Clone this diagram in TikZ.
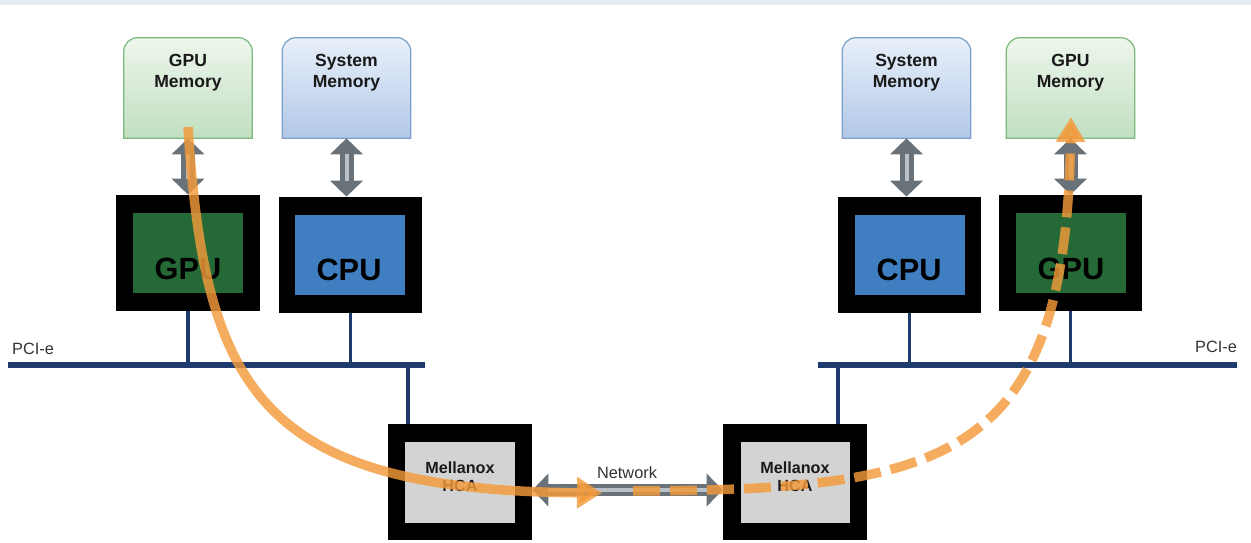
\documentclass[tikz,border=0pt]{standalone}
\usepackage{fontspec}
\setmainfont{Liberation Sans}
\usetikzlibrary{arrows.meta}
\definecolor{navy}{HTML}{1F3B6E}
\definecolor{gpugreen}{HTML}{256A36}
\definecolor{cpublue}{HTML}{3F7FC1}
\definecolor{hcagray}{HTML}{D3D3D3}
\definecolor{orng}{HTML}{F39A3A}
\definecolor{gmfillA}{HTML}{EEF6EC}
\definecolor{gmfillB}{HTML}{C0DFC0}
\definecolor{gmline}{HTML}{7DB97D}
\definecolor{smfillA}{HTML}{E8F0FA}
\definecolor{smfillB}{HTML}{B2C8E8}
\definecolor{smline}{HTML}{7CA0C8}
\definecolor{arrdark}{HTML}{6A7279}
\definecolor{arrlight}{HTML}{B8C0C8}
\definecolor{topband}{HTML}{E6ECF4}
\tikzset{
  outerbox/.style={fill=black, minimum width=2.88cm, minimum height=2.32cm, inner sep=0pt},
  innerbox/.style={minimum width=2.2cm, minimum height=1.62cm, inner sep=0pt},
  bigtext/.style={font=\fontsize{17.5}{20}\selectfont\bfseries, text=black, inner sep=0pt},
  memnode/.style={minimum width=2.56cm, minimum height=2cm, inner sep=0pt},
  memtext/.style={font=\fontsize{10}{11.8}\selectfont\bfseries, align=center, text=black!90, inner sep=0pt},
  gmshape/.style={draw=gmline, line width=0.7pt, top color=gmfillA, bottom color=gmfillB},
  smshape/.style={draw=smline, line width=0.7pt, top color=smfillA, bottom color=smfillB},
  hcatext/.style={font=\fontsize{9.2}{10.4}\selectfont\bfseries, align=center, text=black!90, inner sep=0pt},
  plaintext/.style={font=\fontsize{9.3}{11}\selectfont, text=black!80, inner sep=0pt},
  bus/.style={draw=navy, line width=0.12cm},
  tapline/.style={draw=navy, line width=0.075cm},
  garrow/.style={draw=arrdark, line width=0.28cm,
    arrows={Triangle[length=0.32cm,width=0.64cm]-Triangle[length=0.32cm,width=0.64cm]},
    postaction={draw=arrlight, line width=0.08cm, arrows=-, shorten >=0.32cm, shorten <=0.32cm}},
  flowsolid/.style={draw=orng, opacity=0.82, line width=0.19cm,
    arrows={-Triangle[length=0.5cm,width=0.6cm]}},
  flowdash/.style={draw=orng, opacity=0.82, line width=0.19cm, dash pattern=on 0.54cm off 0.2cm,
    arrows={-Triangle[length=0.5cm,width=0.56cm]}},
}
\newcommand\memshape[2]{%
  \path[#2] (#1.south west) -- ([yshift=-0.28cm]#1.north west) arc(180:90:0.28cm)
    -- ([xshift=-0.28cm]#1.north east) arc(90:0:0.28cm) -- (#1.south east) -- cycle;}
\begin{document}
\begin{tikzpicture}[x=0.02cm, y=-0.02cm]
\useasboundingbox (0,0) rectangle (1251,543);
\fill[topband] (0,0) rectangle (1251,5);

% memory nodes
\node[memnode] (gmL) at (188,88) {};
\node[memnode] (smL) at (346.5,88) {};
\node[memnode] (smR) at (906.5,88) {};
\node[memnode] (gmR) at (1070.5,88) {};
\memshape{gmL}{gmshape}
\memshape{smL}{smshape}
\memshape{smR}{smshape}
\memshape{gmR}{gmshape}
\node[memtext] (gmLt) at (188,73) {GPU\\Memory};
\node[memtext] (smLt) at (346.5,73) {System\\Memory};
\node[memtext] (smRt) at (906.5,73) {System\\Memory};
\node[memtext] (gmRt) at (1070.5,73) {GPU\\Memory};

% processors
\node[outerbox] (gpuL) at (188,253) {};
\node[innerbox, fill=gpugreen] (gpuLi) at (188,253) {};
\node[bigtext] (gpuLt) at (188,269) {GPU};
\node[outerbox] (cpuL) at (350.5,255) {};
\node[innerbox, fill=cpublue] (cpuLi) at (350,255) {};
\node[bigtext] (cpuLt) at (349,270) {CPU};
\node[outerbox] (cpuR) at (909.5,255) {};
\node[innerbox, fill=cpublue] (cpuRi) at (909.5,255) {};
\node[bigtext] (cpuRt) at (909,270) {CPU};
\node[outerbox] (gpuR) at (1070.5,253) {};
\node[innerbox, fill=gpugreen] (gpuRi) at (1071,253) {};
\node[bigtext] (gpuRt) at (1071,269) {GPU};

% HCAs
\node[outerbox] (hcaL) at (460,482) {};
\node[innerbox, fill=hcagray] (hcaLi) at (460,482.5) {};
\node[hcatext] (hcaLt) at (460,477) {Mellanox\\HCA};
\node[outerbox] (hcaR) at (795,482) {};
\node[innerbox, fill=hcagray] (hcaRi) at (795.5,482.5) {};
\node[hcatext] (hcaRt) at (795,477) {Mellanox\\HCA};

% memory arrows
\draw[garrow] (gmL.south) -- (gmL.south |- gpuL.north);
\draw[garrow] (smL.south) -- (smL.south |- cpuL.north);
\draw[garrow] (smR.south) -- (smR.south |- cpuR.north);
\draw[garrow] (gmR.south) -- (gmR.south |- gpuR.north);

% buses
\coordinate (busLa) at (8,365);
\coordinate (busLb) at (425,365);
\coordinate (busRa) at (818,365);
\coordinate (busRb) at (1237,365);
\draw[bus] (busLa) -- (busLb);
\draw[bus] (busRa) -- (busRb);
\draw[tapline] (gpuL.south) -- (gpuL.south |- busLa);
\draw[tapline] (cpuL.south) -- (cpuL.south |- busLa);
\draw[tapline] (gpuR.south) -- (gpuR.south |- busRa);
\draw[tapline] (cpuR.south) -- (cpuR.south |- busRa);
\coordinate (tapL) at (408,365);
\coordinate (tapR) at (838,365);
\draw[tapline] (tapL) -- (tapL |- hcaL.north);
\draw[tapline] (tapR) -- (tapR |- hcaR.north);
\node[plaintext] (pciL) at (33,349) {PCI-e};
\node[plaintext] (pciR) at (1216,347) {PCI-e};

% network
\draw[garrow, line width=0.24cm] ([yshift=-0.16cm]hcaL.east) -- ([yshift=-0.16cm]hcaR.west);
\node[plaintext] (netlbl) at (627,473) {Network};

% data flow
\coordinate (f1) at (188,127);
\coordinate (f2) at (602,493);
\coordinate (f3) at (633,491);
\coordinate (f4) at (1071,117);
\draw[flowsolid] (f1) .. controls (205,390) and (260,490) .. (f2);
\draw[flowdash] (f3) .. controls (950,490) and (1065,460) .. (f4);
\end{tikzpicture}
\end{document}
